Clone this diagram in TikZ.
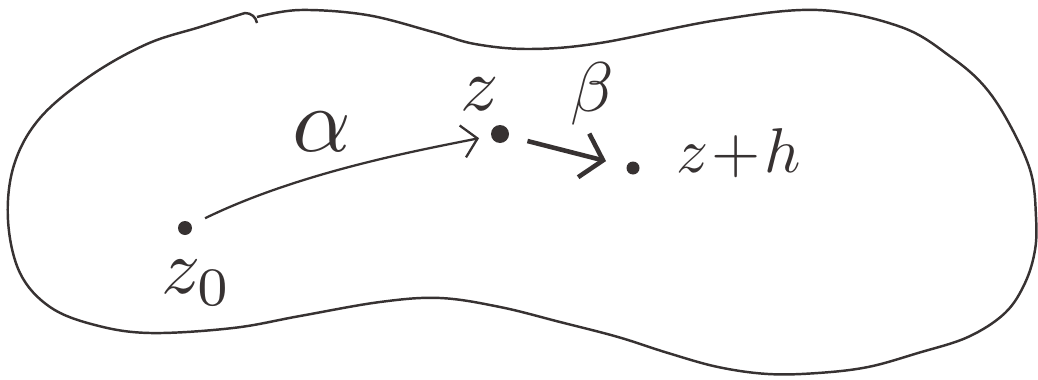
\documentclass[tikz,border=0pt]{standalone}
\usepackage{graphicx}
\usetikzlibrary{arrows.meta}
\definecolor{ink}{RGB}{55,50,50}
\newcommand{\lbltxt}[2]{\scalebox{#1}{$#2$}}
\begin{document}
\begin{tikzpicture}[x=0.02cm,y=-0.02cm,ink,
        pt/.style={circle,fill=ink,inner sep=0pt,minimum size=#1},
        pt/.default=0.28cm,
        lbl/.style={inner sep=1pt}]
        \useasboundingbox (0,0) rectangle (1038,379);
        \draw[line width=1.4pt,line join=round] plot[smooth,tension=0.6] coordinates{
            (257,17) (300,10) (367,15) (433,32) (475,44) (530,49) (600,43) (718,20) (818,10)
            (901,27) (951,57) (985,87) (1011,127) (1031,173) (1036,217) (1035,250) (1025,283)
            (1005,313) (968,337) (918,353) (868,367) (818,373) (768,374) (718,367) (668,353)
            (618,337) (560,322) (500,307) (440,298) (380,302) (300,316) (233,328) (150,333)
            (95,325) (50,307) (20,273) (8,220) (14,165) (40,118) (90,76) (147,44)
            (200,27) (245,13)} to[out=0,in=100] (257,23); %領域
        \node[pt] (z0) at (185,228) {}; %始点
        \node[pt=0.36cm] (z) at (500,134) {};
        \node[pt=0.26cm] (zh) at (633,168) {};
        \draw[-{Straight Barb[length=3mm,width=6.5mm]},line width=1.3pt,shorten <=0.3cm,shorten >=0.24cm]
            (z0) .. controls (300,172) and (420,150) .. (z); %alpha
        \draw[-{Straight Barb[length=4mm,width=9mm]},line width=2.6pt,shorten <=0.38cm,shorten >=0.42cm]
            (z) -- (zh); %beta
        \node[lbl] (z0lab) at (197,283) {\lbltxt{4.4}{z_0}};
        \node[lbl] (zlab) at (480,94) {\lbltxt{4.3}{z}};
        \node[lbl] (alab) at (322,132) {\lbltxt{5.2}{\alpha}};
        \node[lbl] (blab) at (592,94) {\lbltxt{4}{\beta}};
        \node[lbl,anchor=base west] (zhlab) at (674,172) {\lbltxt{3.6}{z\!+\!h}};
\end{tikzpicture}
\end{document}
